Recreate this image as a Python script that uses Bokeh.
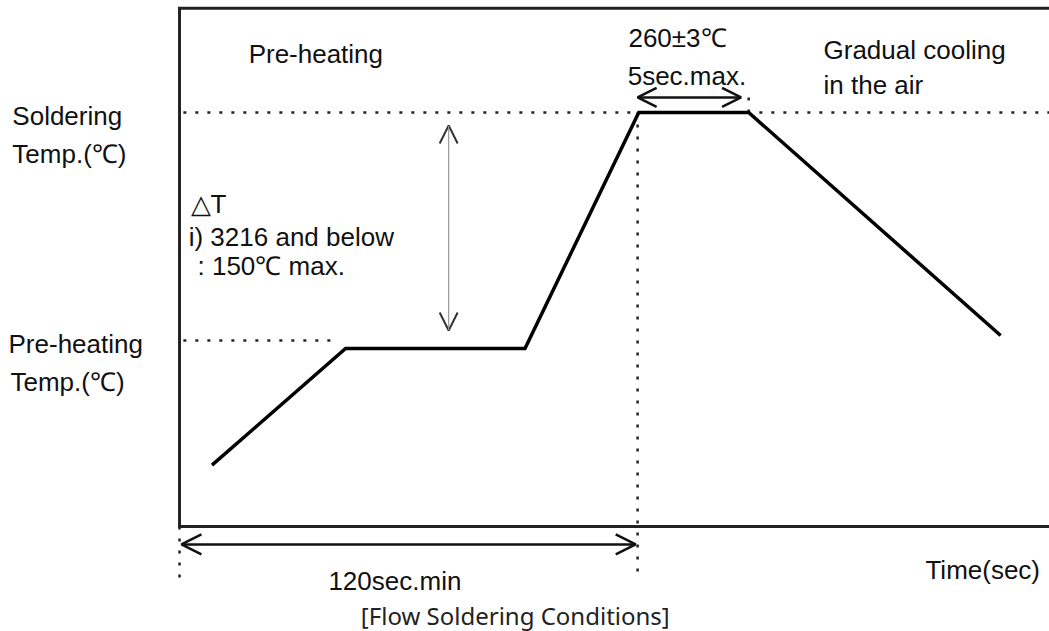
from bokeh.plotting import figure
from bokeh.models import Arrow, OpenHead, ColumnDataSource, Range1d
from bokeh.core.properties import value
from bokeh.embed import file_html
from bokeh.resources import INLINE

# ---- schematic profile data (time in s, temperature in degC) ----
profile_time = [8.5, 43.5, 90.5, 120.3, 149.1, 215.1]
profile_temp = [28, 104.7, 104.7, 260, 260, 113.3]

soldering_temp = 260
preheat_temp = 110
preheat_min_time = 120          # "120sec.min"
peak_start_time = 120.3
peak_end_time = 149.1           # "5sec.max." window
delta_t_low = 116.6
delta_t_high = 251.4

# ---- text labels ----
label_text = ["Pre-heating", "260±3℃", "5sec.max.", "Gradual cooling", "in the air",
              "Soldering", "Temp.(℃)", "Pre-heating", "Temp.(℃)",
              "△T", "i) 3216 and below", ": 150℃ max.", "120sec.min", "Time(sec)"]
label_x = [18.1, 117.6, 117.4, 168.7, 168.7, -43.8, -43.8, -44.8, -44.3,
           2.9, 2.4, 4.7, 39.0, 195.4]
label_y = [298.8, 309.3, 284.3, 301.4, 277.8, 258.0, 232.4, 108.0, 83.0,
           200.1, 177.8, 159.3, -47.9, -41.3]
title_text = ["[Flow Soldering Conditions]"]
title_x = [47.5]
title_y = [-71.0]

# ---- plot frame (box) extents ----
box_left, box_right = 0, 240
box_bottom, box_top = -12.4, 328.6
below_box = -45.9
arrow_120_y = -24.2
arrow_5_y = 269.9
delta_t_x = 70.5

p = figure(width=1049, height=631,
           x_range=Range1d(-46.9, 227.9), y_range=Range1d(-81.45, 333.68),
           x_axis_type=None, y_axis_type=None,
           toolbar_location=None, output_backend="svg",
           min_border=0, outline_line_color=None,
           background_fill_color="white", border_fill_color="white")

# box: top, left, bottom
p.line([box_right, box_left, box_left, box_right],
       [box_top, box_top, box_bottom, box_bottom],
       line_color="#222222", line_width=3, line_join="miter")

# dotted guide lines
dot = dict(line_color="#222222", line_width=2.5, line_dash="3 9")
p.segment(x0=[box_left + 1, box_left + 1, preheat_min_time, box_left, peak_end_time],
          y0=[soldering_temp, preheat_temp, soldering_temp, box_bottom, soldering_temp],
          x1=[box_right, 41.4, preheat_min_time, box_left, peak_end_time],
          y1=[soldering_temp, preheat_temp, below_box, below_box, 274.5],
          **dot)

# temperature profile
p.line(profile_time, profile_temp, line_color="black", line_width=3.5,
       line_join="miter")

# arrows
def head(size, w, c):
    return OpenHead(size=size, line_width=w, line_color=c)

p.add_layout(Arrow(start=head(20, 2.5, "#111111"), end=head(20, 2.5, "#111111"),
                   x_start=0.5, y_start=arrow_120_y,
                   x_end=preheat_min_time - 0.5, y_end=arrow_120_y,
                   line_width=2.5, line_color="#111111"))
p.add_layout(Arrow(start=head(19, 2.5, "#111111"), end=head(19, 2.5, "#111111"),
                   x_start=peak_start_time - 0.3, y_start=arrow_5_y,
                   x_end=peak_end_time - 2.0, y_end=arrow_5_y,
                   line_width=2.5, line_color="#111111"))
p.add_layout(Arrow(start=head(18, 2, "#333333"), end=head(18, 2, "#333333"),
                   x_start=delta_t_x, y_start=delta_t_low,
                   x_end=delta_t_x, y_end=delta_t_high,
                   line_width=1.2, line_color="#9a9a9a"))

# texts
src = ColumnDataSource(dict(x=label_x, y=label_y, t=label_text))
p.text(x="x", y="y", text="t", source=src,
       text_font=value("Liberation Sans"), text_font_size="26px",
       text_color="#111111", text_baseline="alphabetic", text_align="left")

tsrc = ColumnDataSource(dict(x=title_x, y=title_y, t=title_text))
p.text(x="x", y="y", text="t", source=tsrc,
       text_font=value("Noto Sans"), text_font_size="24px",
       text_color="#222222", text_baseline="alphabetic", text_align="left")

open("out.html", "w").write(file_html(p, INLINE))
